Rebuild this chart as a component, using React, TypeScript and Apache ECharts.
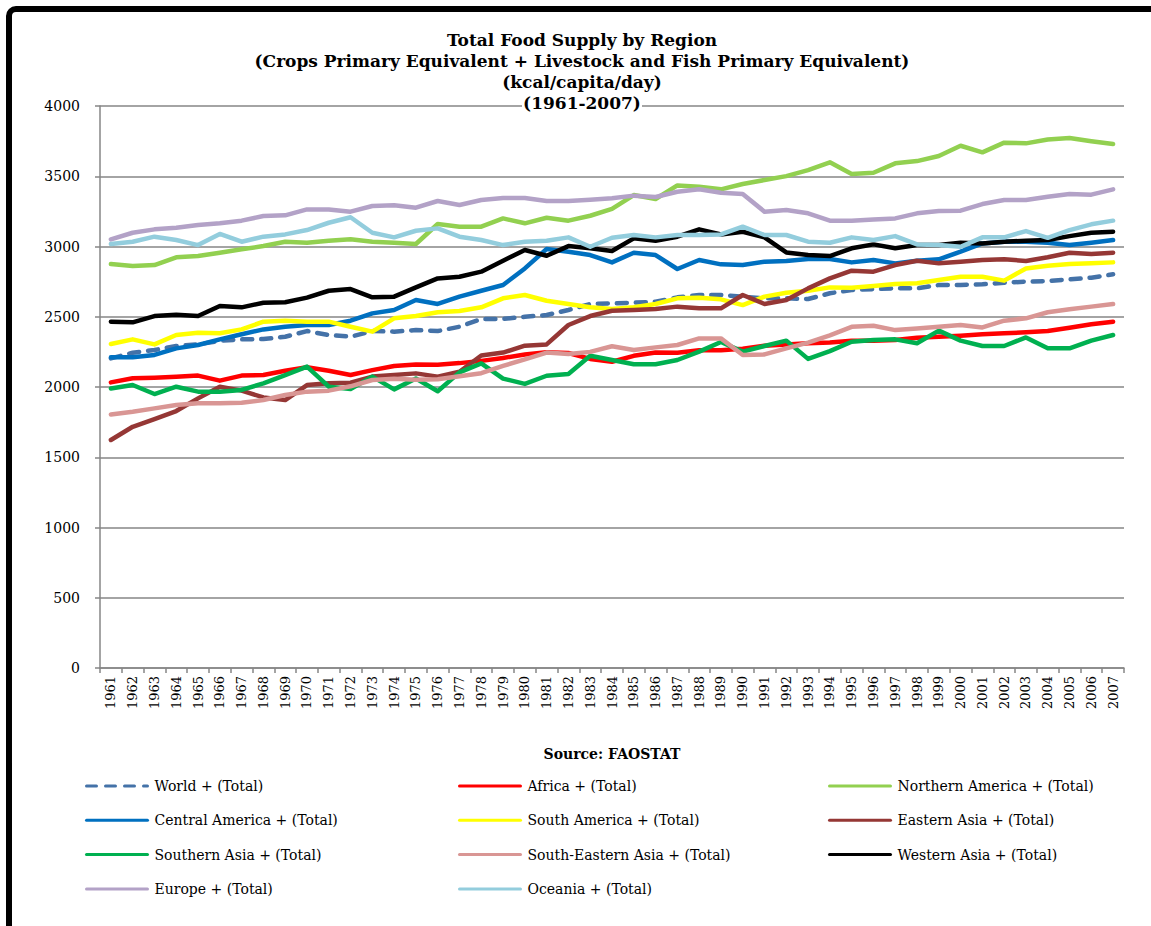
import React, { useEffect, useRef } from "react";
import * as echarts from "echarts";

const years: string[] = [];
for (let y = 1961; y <= 2007; y++) years.push(String(y));

const world = [2204,2244,2263,2292,2303,2329,2339,2341,2358,2398,2370,2358,2398,2394,2405,2398,2429,2484,2484,2500,2512,2548,2591,2595,2600,2607,2638,2655,2655,2643,2631,2631,2626,2667,2690,2697,2702,2702,2726,2726,2731,2742,2750,2754,2766,2778,2802];
const africa = [2033,2062,2066,2073,2081,2045,2081,2085,2116,2140,2116,2085,2120,2150,2160,2158,2170,2186,2207,2231,2248,2242,2200,2180,2222,2246,2244,2261,2261,2272,2294,2302,2311,2316,2330,2330,2334,2351,2358,2365,2375,2382,2389,2398,2422,2446,2465];
const northernAmerica = [2875,2861,2868,2923,2932,2956,2980,3003,3034,3027,3041,3051,3034,3027,3018,3160,3141,3141,3200,3165,3205,3184,3219,3268,3366,3338,3435,3426,3407,3445,3473,3501,3544,3599,3516,3525,3592,3608,3644,3717,3670,3739,3734,3762,3772,3749,3729];
const centralAmerica = [2211,2211,2228,2275,2299,2339,2375,2410,2429,2441,2441,2472,2524,2548,2619,2591,2643,2685,2726,2844,2982,2963,2939,2887,2956,2939,2840,2904,2873,2868,2892,2897,2911,2911,2887,2904,2880,2899,2909,2963,3022,3034,3034,3027,3010,3027,3046];
const southAmerica = [2306,2339,2303,2370,2386,2382,2410,2465,2472,2465,2465,2429,2394,2489,2505,2532,2541,2567,2631,2655,2614,2591,2567,2555,2567,2591,2631,2636,2624,2583,2643,2671,2685,2709,2707,2719,2733,2738,2761,2785,2785,2757,2844,2863,2875,2880,2887];
const easternAsia = [1623,1717,1772,1829,1919,2002,1974,1926,1907,2014,2026,2031,2074,2085,2097,2074,2109,2224,2245,2294,2303,2441,2505,2543,2548,2555,2572,2560,2560,2655,2591,2619,2702,2773,2828,2821,2868,2899,2880,2892,2904,2909,2897,2923,2956,2946,2956];
const southernAsia = [1990,2014,1950,2002,1967,1967,1979,2026,2085,2145,2002,1985,2074,1983,2060,1970,2104,2168,2060,2022,2080,2093,2222,2192,2162,2162,2192,2252,2320,2252,2292,2330,2200,2255,2322,2334,2339,2311,2401,2330,2292,2292,2353,2275,2275,2330,2370];
const southEasternAsia = [1805,1824,1848,1872,1884,1884,1888,1907,1943,1967,1974,2005,2050,2058,2052,2055,2076,2098,2150,2197,2245,2235,2250,2290,2263,2282,2299,2346,2346,2228,2232,2275,2316,2368,2428,2436,2405,2417,2429,2441,2424,2472,2489,2532,2553,2572,2591];
const westernAsia = [2465,2460,2505,2515,2505,2576,2567,2600,2603,2636,2685,2697,2638,2643,2709,2773,2785,2821,2899,2975,2934,3003,2987,2968,3058,3041,3070,3122,3086,3105,3065,2958,2939,2932,2987,3015,2987,3010,3010,3027,3022,3034,3041,3046,3074,3098,3105];
const europe = [3051,3098,3122,3134,3153,3165,3184,3217,3222,3264,3264,3248,3288,3293,3276,3324,3295,3331,3345,3345,3324,3324,3333,3343,3362,3352,3390,3407,3383,3374,3248,3260,3236,3184,3184,3193,3200,3236,3253,3255,3302,3331,3331,3354,3374,3369,3407];
const oceania = [3018,3034,3070,3046,3010,3089,3034,3070,3086,3117,3169,3208,3098,3065,3112,3129,3070,3046,3010,3034,3041,3065,2998,3062,3082,3065,3082,3082,3086,3141,3082,3082,3034,3027,3065,3046,3074,3015,3010,2998,3065,3065,3110,3062,3117,3158,3184];

const titleLines = [
  "Total Food Supply by Region",
  "(Crops Primary Equivalent + Livestock and Fish Primary Equivalent)",
  "(kcal/capita/day)",
  "(1961-2007)",
];
const sourceText = "Source: FAOSTAT";

const seriesDefs = [
  { name: "World + (Total)", data: world, color: "#4472A8", dashed: true },
  { name: "Africa + (Total)", data: africa, color: "#FF0000" },
  { name: "Northern America + (Total)", data: northernAmerica, color: "#92D050" },
  { name: "Central America + (Total)", data: centralAmerica, color: "#0070C0" },
  { name: "South America + (Total)", data: southAmerica, color: "#FFFF00" },
  { name: "Eastern Asia + (Total)", data: easternAsia, color: "#953735" },
  { name: "Southern Asia + (Total)", data: southernAsia, color: "#00B050" },
  { name: "South-Eastern Asia + (Total)", data: southEasternAsia, color: "#D99694" },
  { name: "Western Asia + (Total)", data: westernAsia, color: "#000000" },
  { name: "Europe + (Total)", data: europe, color: "#B3A2C7" },
  { name: "Oceania + (Total)", data: oceania, color: "#93CDDD" },
];

const legendCols = [
  ["World + (Total)", "Central America + (Total)", "Southern Asia + (Total)", "Europe + (Total)"],
  ["Africa + (Total)", "South America + (Total)", "South-Eastern Asia + (Total)", "Oceania + (Total)"],
  ["Northern America + (Total)", "Eastern Asia + (Total)", "Western Asia + (Total)"],
];
const legendLefts = [80, 453, 823];

const FONT = '"DejaVu Serif", "Liberation Serif", serif';

export default function App() {
  const ref = useRef<HTMLDivElement>(null);
  useEffect(() => {
    document.body.style.margin = "0";
    if (!ref.current) return;
    const chart = echarts.init(ref.current, undefined, { renderer: "svg" });
    const titleY = [40, 61, 82, 103];
    const graphics: any[] = [
      {
        type: "rect",
        z: 100,
        shape: { x: 9, y: 9, width: 1400, height: 1400, r: 7 },
        style: { fill: "none", stroke: "#000", lineWidth: 6 },
        silent: true,
      },
      {
        type: "rect",
        z: 100,
        shape: { x: 522, y: 97, width: 120, height: 13 },
        style: { fill: "#fff" },
        silent: true,
      },
      ...titleLines.map((t, i) => ({
        type: "text",
        z: 101,
        style: {
          text: t,
          x: 582,
          y: titleY[i],
          textAlign: "center",
          textVerticalAlign: "middle",
          font: `bold 17px ${FONT}`,
          fill: "#000",
        },
      })),
      {
        type: "text",
        z: 101,
        style: {
          text: sourceText,
          x: 612,
          y: 754,
          textAlign: "center",
          textVerticalAlign: "middle",
          font: `bold 14px ${FONT}`,
          fill: "#000",
        },
      },
    ];
    chart.setOption({
      animation: false,
      backgroundColor: "#fff",
      grid: { left: 100, right: 27, top: 106, bottom: 258, containLabel: false },
      xAxis: {
        type: "category",
        data: years,
        boundaryGap: true,
        axisLine: { show: true, lineStyle: { color: "#868686", width: 1.5 } },
        axisTick: { show: true, length: 5, alignWithLabel: false, interval: 0, lineStyle: { color: "#868686", width: 1.5 } },
        axisLabel: { interval: 0, rotate: 90, margin: 8, fontSize: 13, color: "#000", fontFamily: FONT },
        splitLine: { show: false },
      },
      yAxis: {
        type: "value",
        min: 0,
        max: 4000,
        interval: 500,
        axisLine: { show: true, lineStyle: { color: "#868686", width: 1.5 } },
        axisTick: { show: true, length: 5, lineStyle: { color: "#868686", width: 1.5 } },
        axisLabel: {
          margin: 20,
          fontSize: 14,
          color: "#000",
          fontFamily: FONT,
          formatter: (v: number) => String(v),
        },
        splitLine: { show: true, lineStyle: { color: "#868686", width: 1.5 } },
      },
      legend: legendCols.map((col, i) => ({
        data: col,
        orient: "vertical",
        left: legendLefts[i],
        top: 774,
        itemWidth: 61,
        itemHeight: 14,
        itemGap: 20.3,
        selectedMode: false,
        itemStyle: { opacity: 0 },
        lineStyle: { width: 3 },
        textStyle: { fontSize: 14, color: "#000", fontFamily: FONT, padding: [0, 0, 0, 2], lineHeight: 14 },
      })),
      series: seriesDefs.map((s) => ({
        name: s.name,
        type: "line",
        data: s.data,
        symbol: "none",
        color: s.color,
        lineStyle: {
          color: s.color,
          width: 4.5,
          type: s.dashed ? [10, 9] : "solid",
          cap: "round",
          join: "round",
        },
      })),
      graphic: graphics,
    });
    return () => chart.dispose();
  }, []);
  return <div ref={ref} style={{ width: 1151, height: 926 }} />;
}
